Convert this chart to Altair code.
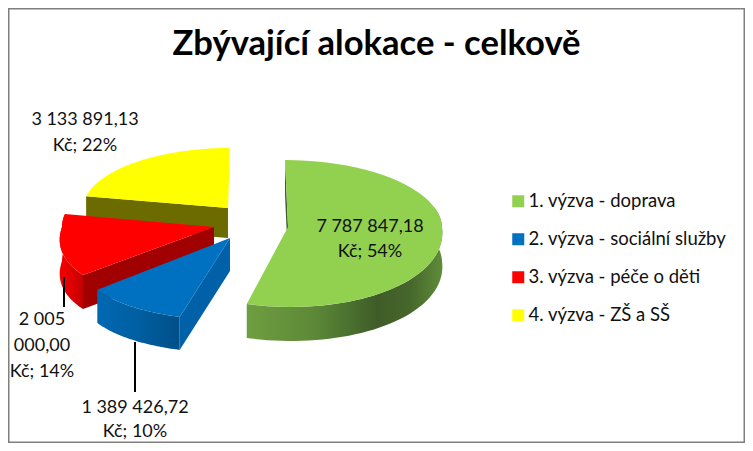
import math
import altair as alt
import pandas as pd

categories = ["1. výzva - doprava", "2. výzva - sociální služby", "3. výzva - péče o děti", "4. výzva - ZŠ a SŠ"]
values = [7787847.18, 1389426.72, 2005000.00, 3133891.13]
colors = ["#92D050", "#0070C0", "#FF0000", "#FFFF00"]
title_text = "Zbývající alokace - celkově"

label_lines = [
    ("7 787 847,18", 370, 227), ("Kč; 54%", 370, 252),
    ("1 389 426,72", 135, 408), ("Kč; 10%", 135, 432),
    ("2 005", 42, 320), ("000,00", 42, 346), ("Kč; 14%", 42, 372),
    ("3 133 891,13", 85, 120), ("Kč; 22%", 85, 146),
]
leaders = [(64, 277, 307), (135, 342, 392)]

FONT = "Lato"
W, H = 737, 435
X = alt.X("x:Q", scale=alt.Scale(domain=[8, 745]), axis=None)
Y = alt.Y("y:Q", scale=alt.Scale(domain=[443, 8]), axis=None)

# exploded slice geometry: apex, side radius, front-widened radius, back and front radii, lean, depth
geom = [
    dict(ax=288, ay=227, a=154, af=162, bt=67, bb=80, lean=-3, d=34),
    dict(ax=230, ay=238, a=146, af=186, bt=67, bb=82, lean=0, d=33),
    dict(ax=214, ay=227, a=152, af=179, bt=67, bb=76, lean=0, d=34),
    dict(ax=228, ay=208, a=145, af=145, bt=60, bb=70, lean=2, d=30),
]

total = sum(values)
angles = [0.0]
for v in values:
    angles.append(angles[-1] + v / total * 2 * math.pi)


def pt(g, t, drop=0.0):
    c = math.cos(t)
    a = g["a"] + (g["af"] - g["a"]) * max(0.0, -c)
    return (g["ax"] + a * math.sin(t) + g["lean"] * c,
            g["ay"] - c * (g["bt"] if c > 0 else g["bb"]) + drop)


def arc(g, t0, t1, drop=0.0, n=50):
    return [pt(g, t0 + (t1 - t0) * i / n, drop) for i in range(n + 1)]


def poly(points, fill):
    df = pd.DataFrame({"x": [p[0] for p in points], "y": [p[1] for p in points], "i": range(len(points))})
    return alt.Chart(df).mark_line(fill=fill, strokeOpacity=0, clip=False).encode(x=X, y=Y, order=alt.Order("i:Q"))


def grad(*stops):
    n = len(stops) - 1
    return alt.LinearGradient(gradient="linear", x1=0, x2=1, y1=0, y2=0,
                              stops=[alt.GradientStop(color=c, offset=k / n) for k, c in enumerate(stops)])


def apex(g):
    return (g["ax"], g["ay"])


def edge(g, t):
    a, p = apex(g), pt(g, t)
    return [a, p, (p[0], p[1] + g["d"]), (a[0], a[1] + g["d"])]


def outer(g, t0, t1):
    return arc(g, t0, t1) + arc(g, t1, t0, g["d"])


def top(g, t0, t1):
    return [apex(g)] + arc(g, t0, t1)


layers = []
# yellow
g = geom[3]; t0, t1 = angles[3], angles[4]
layers += [poly(edge(g, t0), "#6B6B00"), poly(top(g, t0, t1), colors[3])]
# red
g = geom[2]; t0, t1 = angles[2], angles[3]
layers += [poly(outer(g, t0, t1), grad("#F40000", "#E00000", "#C00000")),
           poly(edge(g, t0), "#A00000"), poly(top(g, t0, t1), colors[2])]
# blue
g = geom[1]; t0, t1 = angles[1], angles[2]
layers += [poly(edge(g, t0), "#0060A8"),
           poly(outer(g, t0, t1), grad("#0068B4", "#005FA0", "#004F88")),
           poly(top(g, t0, t1), colors[1])]
# green
g = geom[0]; t0, t1 = angles[0], angles[1]
layers += [poly(edge(g, 0.0), "#3F5C28"),
           poly(outer(g, math.pi / 2 - 0.3, t1),
                grad("#6F9E41", "#66933C", "#5E8A37", "#4D7430", "#3F5C28", "#46672C", "#5F8C38")),
           poly(top(g, t0, t1), colors[0])]

rules = pd.DataFrame(leaders, columns=["x", "y", "y2"])
layers.append(alt.Chart(rules).mark_rule(color="black", strokeWidth=2).encode(x=X, y=Y, y2="y2:Q"))

labels = pd.DataFrame(label_lines, columns=["t", "x", "y"])
layers.append(alt.Chart(labels).mark_text(font=FONT, fontSize=18, color="#111111", align="center", baseline="middle")
              .encode(x=X, y=Y, text="t:N"))

legend_df = pd.DataFrame({"c": categories, "x": [300] * 4, "y": [200] * 4})
layers.append(alt.Chart(legend_df).mark_square(opacity=0).encode(
    x=X, y=Y,
    color=alt.Color("c:N", scale=alt.Scale(domain=categories, range=colors), sort=categories,
                    legend=alt.Legend(title=None, orient="none", legendX=501, legendY=184,
                                      symbolType="square", symbolSize=144, symbolOpacity=1, symbolStrokeWidth=0,
                                      labelFont=FONT, labelFontSize=18.5, labelColor="#111111", labelLimit=300,
                                      rowPadding=19, labelOffset=1))))

chart = alt.layer(*layers).properties(
    width=W, height=H, padding=0, autosize=alt.AutoSizeParams(type="none"),
    title=alt.TitleParams(title_text, font=FONT, fontSize=34.6, fontWeight="bold", color="black",
                          anchor="middle", offset=-55),
).configure_view(stroke="#7F7F7F", strokeWidth=3)

chart.save("out.html", embed_options={"renderer": "svg", "actions": False})
